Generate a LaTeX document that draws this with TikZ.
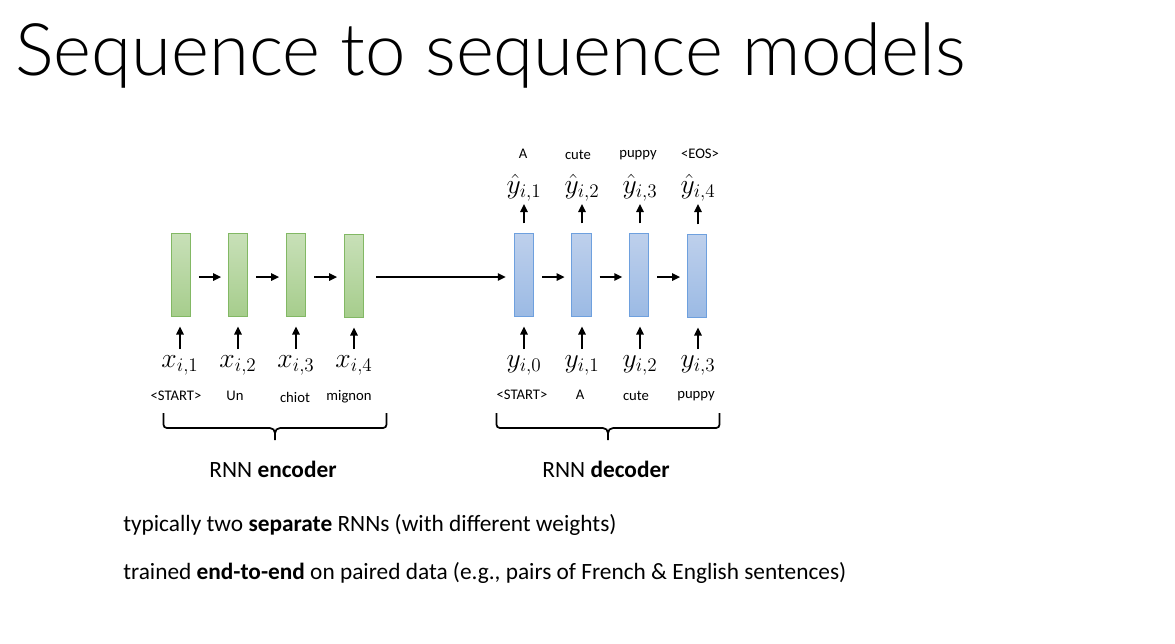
\documentclass[tikz,border=0pt]{standalone}
\usepackage{fontspec}
\setmainfont{Carlito}
\newfontfamily\titlefont{Lato Light}
\usetikzlibrary{arrows.meta}
\definecolor{gtop}{RGB}{200,224,184}
\definecolor{gbot}{RGB}{166,205,140}
\definecolor{gline}{RGB}{130,184,100}
\definecolor{btop}{RGB}{190,208,236}
\definecolor{bbot}{RGB}{155,186,228}
\definecolor{bline}{RGB}{110,160,222}
\tikzset{
  cell/.style={rectangle, inner sep=0pt, minimum width=14.5pt, minimum height=62.5pt, line width=0.8pt},
  enc/.style={cell, draw=gline, top color=gtop, bottom color=gbot},
  dec/.style={cell, draw=bline, top color=btop, bottom color=bbot},
  arr/.style={-{Triangle[length=6pt,width=5.5pt]}, line width=1.3pt},
  word/.style={font=\fontsize{11}{13}\selectfont, inner sep=0pt},
  mlab/.style={font=\fontsize{20}{24}\selectfont, inner sep=0pt, anchor=base},
  brace/.style={line width=1.3pt, rounded corners=2.5pt},
  body/.style={font=\fontsize{17.5}{20}\selectfont, inner sep=0pt, anchor=base west},
}
\begin{document}
\begin{tikzpicture}[x=0.75pt, y=-0.75pt]
\useasboundingbox (0,0) rectangle (1175,643);
% title
\node[font=\titlefont\fontsize{54.4}{60}\selectfont, inner sep=0pt, anchor=base west] (title) at (15,75) {Sequence to sequence models};
% encoder cells
\node[enc] (e1) at (180.7,275) {};
\node[enc] (e2) at (238,275) {};
\node[enc] (e3) at (296,275) {};
\node[enc] (e4) at (354,276) {};
% decoder cells
\node[dec] (d1) at (524,275) {};
\node[dec] (d2) at (581.5,275) {};
\node[dec] (d3) at (639.2,275) {};
\node[dec] (d4) at (697,276) {};
% horizontal arrows
\foreach \a/\b in {e1/e2, e2/e3, e3/e4, d1/d2, d2/d3, d3/d4}
  \draw[arr, shorten <=6pt, shorten >=5pt] (\a.east |- 0,277) -- (\b.west |- 0,277);
\draw[arr, shorten <=9pt, shorten >=6pt] (e4.east |- 0,277) -- (d1.west |- 0,277);
% input labels
\node[mlab] (x1) at (180,367) {$x_{i,1}$};
\node[mlab] (x2) at (238,367) {$x_{i,2}$};
\node[mlab] (x3) at (296,367) {$x_{i,3}$};
\node[mlab] (x4) at (354,367) {$x_{i,4}$};
\node[mlab] (y0) at (524,367) {$y_{i,0}$};
\node[mlab] (y1) at (582,367) {$y_{i,1}$};
\node[mlab] (y2) at (640,367) {$y_{i,2}$};
\node[mlab] (y3) at (698,367) {$y_{i,3}$};
% output labels
\node[mlab] (h1) at (524,193) {$\hat{y}_{i,1}$};
\node[mlab] (h2) at (582,193) {$\hat{y}_{i,2}$};
\node[mlab] (h3) at (640,193) {$\hat{y}_{i,3}$};
\node[mlab] (h4) at (698,193) {$\hat{y}_{i,4}$};
% vertical arrows
\foreach \a/\b in {x1/e1, x2/e2, x3/e3, x4/e4, y0/d1, y1/d2, y2/d3, y3/d4}
  \draw[arr, shorten >=7pt] (\a.north |- 0,349) -- (\a.north |- \b.south);
\foreach \a/\b in {d1/h1, d2/h2, d3/h3, d4/h4}
  \draw[arr, shorten <=7pt] (\b.south |- \a.north) -- (\b.south |- 0,204);
% words
\node[word] (w1) at (176,396) {<START>};
\node[word] (w2) at (235,396) {Un};
\node[word] (w3) at (295,397) {chiot};
\node[word] (w4) at (349,397) {mignon};
\node[word] (v1) at (522,395) {<START>};
\node[word] (v2) at (580,395) {A};
\node[word] (v3) at (636,396) {cute};
\node[word] (v4) at (696,396) {puppy};
\node[word] (t1) at (523,154) {A};
\node[word] (t2) at (578,155) {cute};
\node[word] (t3) at (638,155) {puppy};
\node[word] (t4) at (700,154) {<EOS>};
% braces
\draw[brace] (163.5,413) -- (163.5,428) -- (270,428);
\draw[brace] (386.5,413) -- (386.5,428) -- (280,428);
\draw[line width=1.3pt] (270,428) to[out=0,in=90] (275,433) -- (275,440);
\draw[line width=1.3pt] (280,428) to[out=180,in=90] (275,433);
\draw[brace] (496.5,413) -- (496.5,428) -- (603,428);
\draw[brace] (719.5,413) -- (719.5,428) -- (613,428);
\draw[line width=1.3pt] (603,428) to[out=0,in=90] (608,433) -- (608,440);
\draw[line width=1.3pt] (613,428) to[out=180,in=90] (608,433);
\node[body, anchor=base] (encl) at (273,477) {RNN \textbf{encoder}};
\node[body, anchor=base] (decl) at (606,477) {RNN \textbf{decoder}};
% bottom text
\node[body] (l1) at (123,531) {typically two \textbf{separate} RNNs (with different weights)};
\node[body] (l2) at (123,579) {trained \textbf{end-to-end} on paired data (e.g., pairs of French \& English sentences)};
\end{tikzpicture}
\end{document}
